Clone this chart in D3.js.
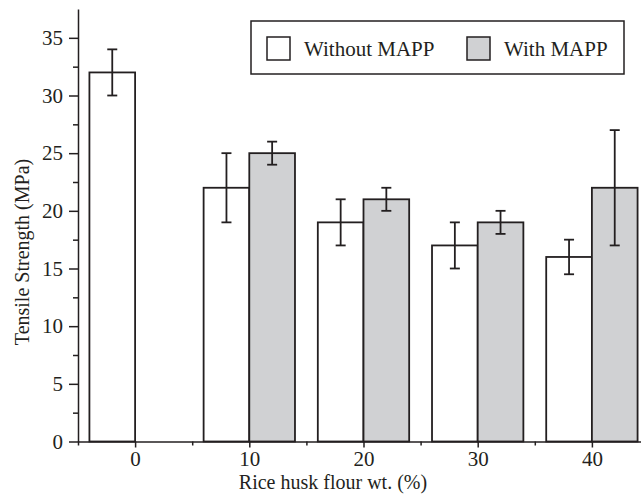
<!DOCTYPE html>
<html>
<head>
<meta charset="utf-8">
<script src="https://cdn.jsdelivr.net/npm/d3@7"></script>
<style>
  body { margin: 0; background: #fff; }
  svg { display: block; }
  svg text { font-family: "Liberation Serif", "Times New Roman", serif !important; fill: #231f20; }
</style>
</head>
<body>
<div id="chart"></div>
<script>
// rice husk flour loading (wt.%)
var loadings = [0, 10, 20, 30, 40];
// tensile strength (MPa)
var withoutMapp = [32, 22, 19, 17, 16];
var withoutErr = [2, 3, 2, 2, 1.5];
var withMapp = [null, 25, 21, 19, 22];
var withErr = [null, 1, 1, 1, 5];
var xMajor = [0, 10, 20, 30, 40];
var xMinor = [-5, 5, 15, 25, 35];
var yMajor = [0, 5, 10, 15, 20, 25, 30, 35];
var yMinor = [2.5, 7.5, 12.5, 17.5, 22.5, 27.5, 32.5];
var seriesNames = ["Without MAPP", "With MAPP"];

var ink = "#231f20";
var grey = "#d0d1d3";
var serif = "'Liberation Serif', 'Times New Roman', serif";
var barW = 4; // width of one bar in x units

var width = 641, height = 496;
var svg = d3.select("#chart").append("svg")
  .attr("width", width)
  .attr("height", height);

var x = d3.scaleLinear().domain([-5, 44.3]).range([78, 641]);
var y = d3.scaleLinear().domain([0, 37.5]).range([441.5, 9]);

// bars
var bars = svg.append("g").attr("stroke", ink).attr("stroke-width", 1.8);
loadings.forEach(function(d, i) {
  bars.append("rect")
    .attr("x", x(d - barW))
    .attr("y", y(withoutMapp[i]))
    .attr("width", x(d) - x(d - barW))
    .attr("height", y(0) - y(withoutMapp[i]))
    .attr("fill", "#fff");
  if (withMapp[i] != null) {
    bars.append("rect")
      .attr("x", x(d))
      .attr("y", y(withMapp[i]))
      .attr("width", x(d + barW) - x(d))
      .attr("height", y(0) - y(withMapp[i]))
      .attr("fill", grey);
  }
});

// error bars
function errBar(cx, mean, err) {
  var g = svg.append("g").attr("stroke", ink).attr("stroke-width", 1.8);
  var px = x(cx);
  g.append("line").attr("x1", px).attr("x2", px).attr("y1", y(mean - err)).attr("y2", y(mean + err));
  [mean - err, mean + err].forEach(function(v) {
    g.append("line").attr("x1", px - 5).attr("x2", px + 5).attr("y1", y(v)).attr("y2", y(v));
  });
}
loadings.forEach(function(d, i) {
  errBar(d - barW / 2, withoutMapp[i], withoutErr[i]);
  if (withMapp[i] != null) errBar(d + barW / 2, withMapp[i], withErr[i]);
});

// axes
function styleAxis(g) {
  g.attr("font-family", serif).attr("font-size", 21);
  g.selectAll("path, line").attr("stroke", ink).attr("stroke-width", 1.5);
  g.selectAll("text").style("font-family", serif).style("font-size", "21px").attr("fill", ink);
}

var xAxis = svg.append("g").attr("transform", "translate(0," + y(0) + ")")
  .call(d3.axisBottom(x).tickValues(xMajor).tickSize(6).tickSizeOuter(0).tickPadding(4));
styleAxis(xAxis);
var xMinorAxis = svg.append("g").attr("transform", "translate(0," + y(0) + ")")
  .call(d3.axisBottom(x).tickValues(xMinor).tickSize(4).tickFormat(""));
styleAxis(xMinorAxis);
xMinorAxis.select(".domain").remove();

var yAxis = svg.append("g").attr("transform", "translate(" + x(-5) + ",0)")
  .call(d3.axisLeft(y).tickValues(yMajor).tickSize(9).tickSizeOuter(0).tickPadding(6));
styleAxis(yAxis);
var yMinorAxis = svg.append("g").attr("transform", "translate(" + x(-5) + ",0)")
  .call(d3.axisLeft(y).tickValues(yMinor).tickSize(5).tickFormat(""));
styleAxis(yMinorAxis);
yMinorAxis.select(".domain").remove();

// axis titles
svg.append("text")
  .attr("x", 333).attr("y", 489)
  .attr("text-anchor", "middle")
  .style("font-size", "20px")
  .text("Rice husk flour wt. (%)");

svg.append("text")
  .attr("transform", "translate(29,252) rotate(-90)")
  .attr("text-anchor", "middle")
  .style("font-size", "20px")
  .text("Tensile Strength (MPa)");

// legend
var legend = svg.append("g");
legend.append("rect")
  .attr("x", 251).attr("y", 21).attr("width", 373).attr("height", 53)
  .attr("fill", "#fff").attr("stroke", ink).attr("stroke-width", 1.5);
var legX = [267, 467];
var legFill = ["#fff", grey];
seriesNames.forEach(function(name, i) {
  legend.append("rect")
    .attr("x", legX[i]).attr("y", 37).attr("width", 23).attr("height", 23)
    .attr("fill", legFill[i]).attr("stroke", ink).attr("stroke-width", 1.5);
  legend.append("text")
    .attr("x", legX[i] + 37).attr("y", 56)
    .style("font-size", "21px")
    .text(name);
});
</script>
</body>
</html>
